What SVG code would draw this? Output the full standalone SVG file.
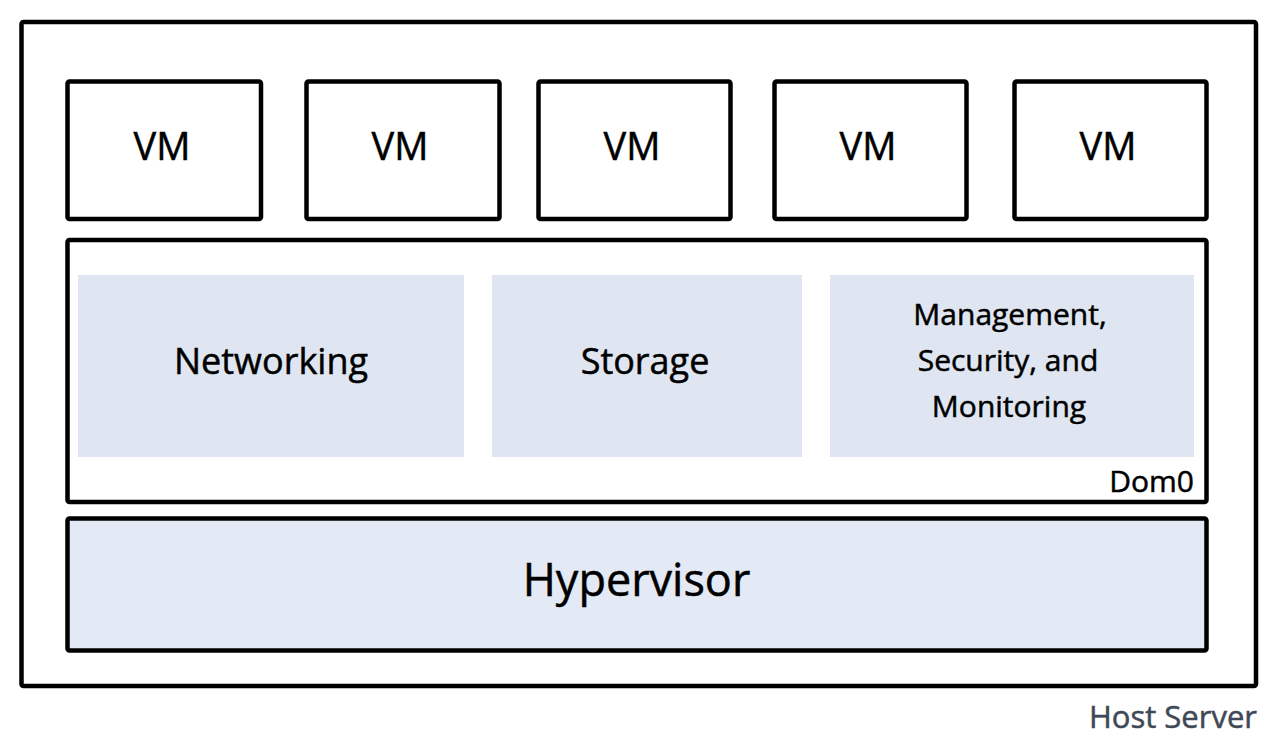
<svg xmlns="http://www.w3.org/2000/svg" width="1282" height="754" viewBox="0 0 1282 754">
<style>
.box{fill:#fff;stroke:#000;stroke-width:4.5;stroke-linejoin:round}
.svc{fill:#dfe6f1;stroke:none}
.t{font-family:"Open Sans","Noto Sans",sans-serif;fill:#000;text-anchor:middle;stroke:#000;stroke-width:0.5}
.vm{font-size:38px}
.svct{font-size:36px}
.mgmt{font-size:30px}
</style>
<rect width="1282" height="754" fill="#fff"/>
<g id="host-server">
  <rect class="box" x="21.5" y="22" width="1234.5" height="664" rx="2"/>
  <text class="t" x="1257" y="728" style="font-size:31px;text-anchor:end;fill:#3f4856;stroke:#3f4856">Host Server</text>
</g>
<g id="vm1"><rect class="box" x="67.5" y="81.5" width="193.5" height="137.5" rx="2"/><text class="t vm" x="162" y="160">VM</text></g>
<g id="vm2"><rect class="box" x="306.5" y="81.5" width="193" height="137.5" rx="2"/><text class="t vm" x="400" y="160">VM</text></g>
<g id="vm3"><rect class="box" x="538.5" y="81.5" width="192" height="137.5" rx="2"/><text class="t vm" x="632" y="160">VM</text></g>
<g id="vm4"><rect class="box" x="774.5" y="81.5" width="192" height="137.5" rx="2"/><text class="t vm" x="868" y="160">VM</text></g>
<g id="vm5"><rect class="box" x="1014.5" y="81.5" width="192" height="137.5" rx="2"/><text class="t vm" x="1108" y="160">VM</text></g>
<g id="dom0">
  <rect class="box" x="67.5" y="240" width="1139" height="262" rx="2"/>
  <text class="t" x="1194" y="492" style="font-size:30px;text-anchor:end">Dom0</text>
</g>
<g id="networking"><rect class="svc" x="78" y="275" width="386" height="182"/><text class="t svct" x="271" y="374">Networking</text></g>
<g id="storage"><rect class="svc" x="492" y="275" width="310" height="182"/><text class="t svct" x="645" y="374">Storage</text></g>
<g id="management">
  <rect class="svc" x="830" y="275" width="364" height="182"/>
  <text class="t mgmt" x="1010" y="325">Management,</text>
  <text class="t mgmt" x="1008" y="371">Security, and</text>
  <text class="t mgmt" x="1009" y="417">Monitoring</text>
</g>
<g id="hypervisor">
  <rect class="box" x="67.5" y="518.5" width="1139" height="132" rx="2" style="fill:#e3e9f5"/>
  <text class="t" x="636.5" y="596" style="font-size:45px">Hypervisor</text>
</g>
<g id="connectors"></g>
</svg>
